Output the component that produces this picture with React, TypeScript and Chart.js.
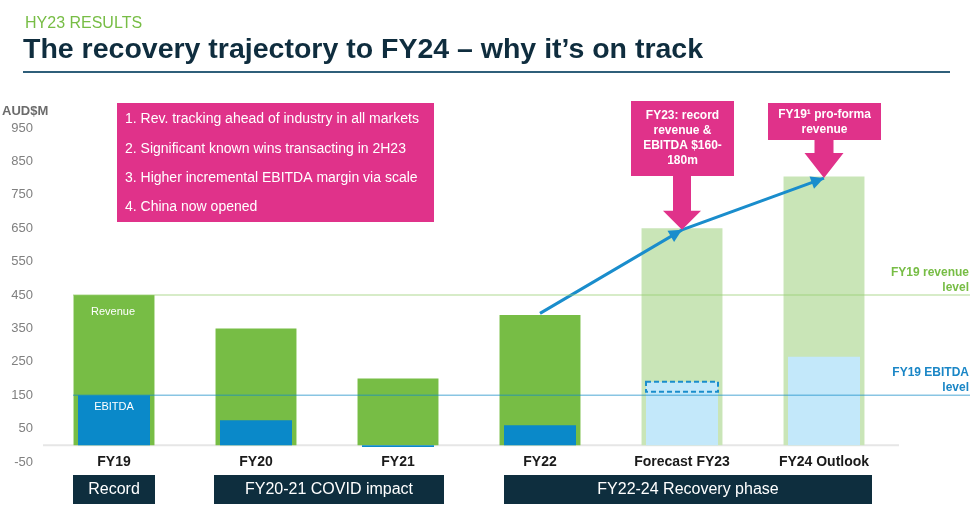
import React, { useEffect, useRef } from 'react';
import { Chart, registerables } from 'chart.js';

Chart.register(...registerables);

// ---------- DATA ----------
const categories = ['FY19', 'FY20', 'FY21', 'FY22', 'Forecast FY23', 'FY24 Outlook'];
const revenue = [450, 350, 200, 390, 650, 805];
const ebitda = [150, 75, -5, 60, 160, 265];
const isOutlook = [false, false, false, false, true, true];
const trajectory = [null, null, null, 395, 645, 800];
const ebitdaGuidanceFY23 = [160, 190];
const fy19RevenueLevel = 450;
const fy19EbitdaLevel = 150;
const yMin = -50;
const yMax = 950;
const yStep = 100;

const keyPoints = [
  '1. Rev. tracking ahead of industry in all markets',
  '2. Significant known wins transacting in 2H23',
  '3. Higher incremental EBITDA margin via scale',
  '4. China now opened',
];
const calloutFY23 = ['FY23: record', 'revenue &', 'EBITDA $160-', '180m'];
const calloutFY24 = ['FY19\u00B9 pro-forma', 'revenue'];
const phaseLabels = ['Record', 'FY20-21 COVID impact', 'FY22-24 Recovery phase'];
const phaseStart = [0, 1, 3];
const phaseEnd = [0, 2, 5];

// ---------- STYLE ----------
const FONT = '"Liberation Sans", Arial, Helvetica, sans-serif';
const GREEN = '#77BD45';
const LIGHT_GREEN = '#C9E5B7';
const BLUE = '#0A89C9';
const LIGHT_BLUE = '#C3E8FA';
const PINK = '#E0328A';
const NAVY = '#0E2E3E';
const ARROW_BLUE = '#1A8DCC';

function font(size: number, bold = false) {
  return `${bold ? 'bold ' : ''}${size}px ${FONT}`;
}

const annotations = {
  id: 'annotations',
  beforeDatasetsDraw(chart: any) {
    const { ctx, chartArea, scales } = chart;
    const y0 = scales.y.getPixelForValue(0);
    ctx.save();
    ctx.strokeStyle = '#E6E6E6';
    ctx.lineWidth = 2;
    ctx.beginPath();
    ctx.moveTo(chartArea.left, y0);
    ctx.lineTo(chartArea.right + 4, y0);
    ctx.stroke();
    ctx.restore();
  },
  afterDatasetsDraw(chart: any) {
    const { ctx, scales, chartArea } = chart;
    const x = scales.x;
    const y = scales.y;
    const cx = (i: number) => x.getPixelForValue(i);
    ctx.save();

    // Header
    ctx.textBaseline = 'middle';
    ctx.textAlign = 'left';
    ctx.fillStyle = GREEN;
    ctx.font = font(16);
    ctx.fillText('HY23 RESULTS', 25, 24);
    ctx.fillStyle = '#0F2D3E';
    ctx.font = font(28.5, true);
    ctx.fillText('The recovery trajectory to FY24 \u2013 why it\u2019s on track', 23, 50);
    ctx.strokeStyle = '#2F5F7A';
    ctx.lineWidth = 2;
    ctx.beginPath();
    ctx.moveTo(23, 72);
    ctx.lineTo(950, 72);
    ctx.stroke();

    // Axis unit
    ctx.fillStyle = '#6B6B6B';
    ctx.font = font(13, true);
    ctx.fillText('AUD$M', 2, 111);

    // Category labels (from the x scale)
    ctx.textAlign = 'center';
    ctx.fillStyle = '#1A1A1A';
    ctx.font = font(14, true);
    x.getLabels().forEach((lab: string, i: number) => {
      ctx.fillText(lab, cx(i), chartArea.bottom);
    });

    // Reference lines
    const yRev = y.getPixelForValue(fy19RevenueLevel);
    const yEb = y.getPixelForValue(fy19EbitdaLevel);
    const lineStart = cx(0) - 41;
    ctx.strokeStyle = 'rgba(150,205,110,0.38)';
    ctx.lineWidth = 2;
    ctx.beginPath();
    ctx.moveTo(lineStart, yRev);
    ctx.lineTo(970, yRev);
    ctx.stroke();
    ctx.strokeStyle = 'rgba(20,140,200,0.5)';
    ctx.lineWidth = 1.5;
    ctx.beginPath();
    ctx.moveTo(lineStart, yEb);
    ctx.lineTo(970, yEb);
    ctx.stroke();

    ctx.textAlign = 'right';
    ctx.font = font(12, true);
    ctx.fillStyle = GREEN;
    ctx.fillText('FY19 revenue', 969, yRev - 22);
    ctx.fillText('level', 969, yRev - 7);
    ctx.fillStyle = '#1A86C6';
    ctx.fillText('FY19 EBITDA', 969, yEb - 23);
    ctx.fillText('level', 969, yEb - 8);

    // EBITDA guidance dashed box (FY23)
    const gTop = y.getPixelForValue(ebitdaGuidanceFY23[1]);
    const gBot = y.getPixelForValue(ebitdaGuidanceFY23[0]);
    ctx.fillStyle = LIGHT_BLUE;
    ctx.fillRect(cx(4) - 36, gTop, 72, gBot - gTop);
    ctx.setLineDash([5, 3]);
    ctx.strokeStyle = ARROW_BLUE;
    ctx.lineWidth = 2;
    ctx.strokeRect(cx(4) - 36, gTop, 72, gBot - gTop);
    ctx.setLineDash([]);

    // Bar labels
    ctx.textAlign = 'center';
    ctx.fillStyle = '#FFFFFF';
    ctx.font = font(11);
    ctx.fillText('Revenue', cx(0) - 1, y.getPixelForValue(revenue[0]) + 17);
    ctx.fillText('EBITDA', cx(0), y.getPixelForValue(ebitda[0]) + 12);

    // Trajectory arrowheads
    const meta = chart.getDatasetMeta(2);
    const pts = meta.data;
    const idx = trajectory.map((v, i) => (v == null ? -1 : i)).filter((i) => i >= 0);
    for (let k = 1; k < idx.length; k++) {
      const a = pts[idx[k - 1]];
      const b = pts[idx[k]];
      const ang = Math.atan2(b.y - a.y, b.x - a.x);
      const L = 13;
      const W = 6.5;
      ctx.fillStyle = ARROW_BLUE;
      ctx.beginPath();
      ctx.moveTo(b.x, b.y);
      ctx.lineTo(b.x - L * Math.cos(ang) + W * Math.sin(ang), b.y - L * Math.sin(ang) - W * Math.cos(ang));
      ctx.lineTo(b.x - L * Math.cos(ang) - W * Math.sin(ang), b.y - L * Math.sin(ang) + W * Math.cos(ang));
      ctx.closePath();
      ctx.fill();
    }

    // Key points box
    ctx.fillStyle = PINK;
    ctx.fillRect(117, 103, 317, 119);
    ctx.fillStyle = '#FFFFFF';
    ctx.textAlign = 'left';
    ctx.font = font(14);
    const kpY = [119, 149, 178, 207];
    keyPoints.forEach((t, i) => ctx.fillText(t, 125, kpY[i]));

    // Callout arrows
    const drawCallout = (
      c: number,
      box: [number, number, number, number],
      lines: string[],
      lineY: number[],
      tipY: number,
      shaftHalf: number,
      headHalf: number,
      headLen: number
    ) => {
      ctx.fillStyle = PINK;
      ctx.fillRect(box[0], box[1], box[2] - box[0], box[3] - box[1]);
      ctx.beginPath();
      ctx.moveTo(c - shaftHalf, box[3] - 1);
      ctx.lineTo(c + shaftHalf, box[3] - 1);
      ctx.lineTo(c + shaftHalf, tipY - headLen);
      ctx.lineTo(c + headHalf, tipY - headLen);
      ctx.lineTo(c, tipY);
      ctx.lineTo(c - headHalf, tipY - headLen);
      ctx.lineTo(c - shaftHalf, tipY - headLen);
      ctx.closePath();
      ctx.fill();
      ctx.fillStyle = '#FFFFFF';
      ctx.textAlign = 'center';
      ctx.font = font(12, true);
      lines.forEach((t, i) => ctx.fillText(t, (box[0] + box[2]) / 2, lineY[i]));
    };
    const c4 = cx(4);
    const c5 = cx(5);
    drawCallout(c4, [c4 - 51, 101, c4 + 52, 176], calloutFY23, [116, 131, 146, 161], pts[4].y, 9, 19, 19);
    drawCallout(c5, [c5 - 56, 103, c5 + 57, 140], calloutFY24, [115, 130], pts[5].y, 9.5, 19.5, 25);

    // Phase boxes
    ctx.font = font(16);
    const phaseL = [41, 42, 36];
    const phaseR = [41, 46, 48];
    phaseLabels.forEach((t, i) => {
      const l = cx(phaseStart[i]) - phaseL[i];
      const r = cx(phaseEnd[i]) + phaseR[i];
      ctx.fillStyle = NAVY;
      ctx.fillRect(l, 475, r - l, 29);
      ctx.fillStyle = '#FFFFFF';
      ctx.textAlign = 'center';
      ctx.fillText(t, (l + r) / 2, 490);
    });

    ctx.restore();
  },
};

export default function App() {
  const ref = useRef<HTMLCanvasElement | null>(null);

  useEffect(() => {
    if (!ref.current) return;
    const chart = new Chart(ref.current, {
      type: 'bar',
      data: {
        labels: categories,
        datasets: [
          {
            label: 'EBITDA',
            data: ebitda,
            backgroundColor: isOutlook.map((o) => (o ? LIGHT_BLUE : BLUE)),
            barPercentage: 0.507,
            categoryPercentage: 1,
            grouped: false,
            order: 1,
          } as any,
          {
            label: 'Revenue',
            data: revenue,
            backgroundColor: isOutlook.map((o) => (o ? LIGHT_GREEN : GREEN)),
            barPercentage: 0.57,
            categoryPercentage: 1,
            grouped: false,
            order: 2,
          } as any,
          {
            type: 'line',
            label: 'Trajectory',
            data: trajectory,
            borderColor: ARROW_BLUE,
            borderWidth: 3,
            pointRadius: 0,
            fill: false,
            order: 0,
          } as any,
        ],
      },
      options: {
        animation: false,
        responsive: false,
        devicePixelRatio: 1,
        layout: { padding: { top: 128, right: 80, left: 0, bottom: 0 } },
        plugins: {
          legend: { display: false },
          tooltip: { enabled: false },
          title: { display: false },
        },
        scales: {
          x: {
            grid: { display: false, drawTicks: false },
            border: { display: false },
            ticks: { display: false },
            afterFit: (s: any) => {
              s.height = 61;
            },
          },
          y: {
            min: yMin,
            max: yMax,
            grid: { display: false, drawTicks: false },
            border: { display: false },
            ticks: {
              stepSize: yStep,
              color: '#808080',
              font: { family: FONT, size: 13 },
              padding: 10,
            },
            afterFit: (s: any) => {
              s.width = 43;
            },
          },
        },
      } as any,
      plugins: [annotations],
    });
    return () => chart.destroy();
  }, []);

  return (
    <div style={{ position: 'absolute', left: 0, top: 0, width: 975, height: 523, background: '#fff' }}>
      <canvas ref={ref} width={975} height={523} style={{ width: 975, height: 523 }} />
    </div>
  );
}
